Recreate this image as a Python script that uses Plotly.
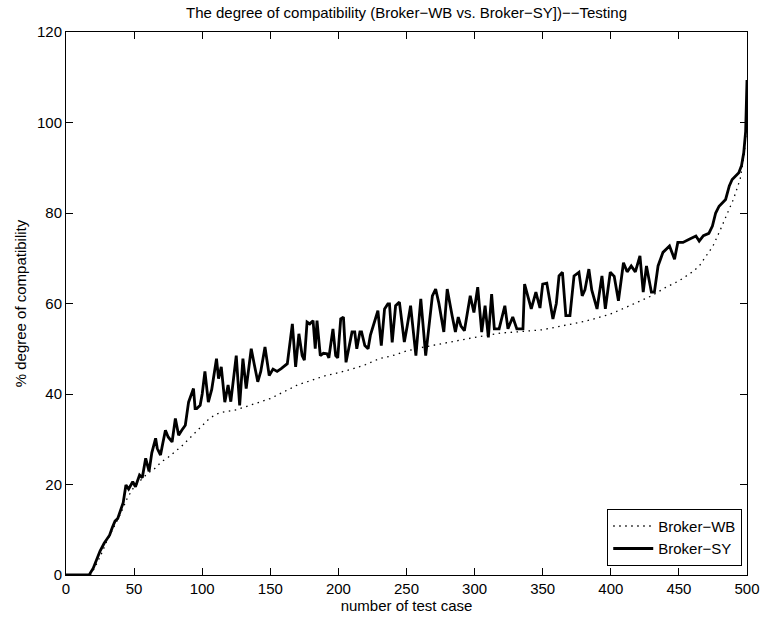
import plotly.graph_objects as go

# Broker-WB (dotted) readings
wb_x = [0, 5, 10, 15, 18, 20, 25, 30, 35, 40, 45, 50, 55, 60, 65, 70, 75, 80, 85, 90, 95, 100,
        105, 110, 115, 120, 125, 130, 140, 150, 160, 170, 180, 190, 200, 210, 220, 230, 240,
        250, 260, 270, 280, 290, 300, 310, 320, 330, 340, 350, 360, 370, 380, 390, 400, 410,
        420, 430, 440, 450, 460, 465, 470, 475, 480, 485, 490, 495, 498, 500]
wb_y = [0, 0, 0, 0, 0, 1, 4, 7.5, 10.5, 13.5, 17, 19.5, 21, 22.5, 23.5, 25, 26, 27.2, 28.5, 30,
        31.6, 33, 34.5, 35.5, 36, 36.3, 36.5, 37, 38, 39, 40.5, 42, 43, 44, 44.7, 45.5, 46.5,
        47.8, 48.5, 49.5, 50.2, 50.8, 51.3, 52, 52.5, 53, 53.5, 53.7, 54, 54.2, 54.8, 55.4, 56,
        56.8, 57.7, 59, 60.3, 61.7, 63.5, 65, 67, 68.3, 70.5, 72.7, 76, 79.5, 83, 87.5, 93, 100]

# Broker-SY (solid) readings
sy_x = [0, 17, 20, 22, 25, 28, 32, 34, 36, 38, 40, 42, 44, 46, 49, 51, 54, 56, 58.5, 61, 63,
        65.8, 67, 69.4, 71, 73, 75, 77.9, 80.3, 82.7, 85, 87.6, 90, 92.4, 93.6, 94.8, 96, 98.5,
        100, 102, 104.5, 107, 110.5, 112, 114, 116.6, 119, 121, 123, 125, 127.5, 129.9, 132.3,
        136, 138.4, 140.8, 143, 146.1, 149.2, 152, 155, 158, 162.5, 166.2, 168.6, 171, 173.4,
        175, 177, 179, 181.4, 183, 184.3, 186.7, 189, 191.6, 193, 196, 198, 199.5, 201.7,
        203.7, 205.6, 208.5, 210, 212, 213.5, 215.8, 217, 219.4, 221.8, 223.5, 225.4, 229,
        231.5, 233.9, 236.3, 237.5, 239.5, 242, 244.8, 248.4, 250.5, 253, 256.9, 260.5, 264.1,
        266.5, 269, 271.4, 273.8, 277.4, 279.9, 283.5, 285.9, 288, 290, 292.5, 296.8, 299.5,
        302.3, 305.2, 307.7, 310.1, 312.5, 314.5, 318, 322.2, 324.5, 328, 331, 335.5, 336.7,
        341.6, 345, 348, 350, 353, 356, 357.5, 360, 362, 364.5, 367, 370, 373, 376.6, 379,
        381, 383.9, 386, 389.9, 393.5, 396, 399.6, 402.5, 405.6, 409.3, 412, 415, 418, 421.4,
        423.8, 426.2, 429.8, 432, 434.7, 438.3, 443.1, 446.8, 449.2, 453, 457.6, 462.5, 464.9,
        468, 472, 474.6, 477, 479.5, 484.3, 487, 489.1, 494, 496, 497.6, 499, 500]
sy_y = [0, 0, 1.5, 3, 5.3, 7, 8.8, 10.5, 11.9, 12.5, 14.1, 16, 19.9, 19, 20.6, 19.5, 22.1,
        21.5, 25.8, 22.9, 27, 30.2, 28, 26.5, 29, 32, 30.5, 29.4, 34.6, 30.9, 32, 33.1, 38.2,
        40.4, 41.2, 36.8, 36.8, 37.5, 40, 45, 38.2, 41, 47.8, 43.4, 46, 38.2, 42, 38.3, 44,
        48.5, 37.5, 47.8, 41.2, 50, 46.3, 42.7, 45, 50.4, 44.1, 45.5, 45, 45.6, 46.7, 55.5,
        46, 53.3, 48.5, 47.5, 55.9, 55.5, 56.2, 50, 56.2, 48.5, 49, 48.9, 48, 54.4, 48.5,
        48, 56.6, 57, 47, 51.5, 53.7, 53.7, 50, 53.7, 53.7, 50.7, 50, 53, 54.8, 58.4, 50.7,
        58.8, 59.9, 59.9, 51.4, 59.5, 60.3, 51.5, 55, 59.5, 48.5, 61, 48.5, 55, 61.7, 63.2,
        60, 53.7, 63.2, 57.3, 53.7, 57, 55, 54, 61.7, 58, 63.6, 53.7, 59.5, 52.5, 62.1, 54.4,
        54.4, 59.5, 54.4, 57, 54.4, 54.4, 64.3, 58.8, 62.5, 59, 64.3, 64.5, 59.5, 56.6, 60,
        66.1, 66.9, 57.3, 57.3, 66.1, 66.9, 61.7, 63, 67.6, 63, 58.8, 66.1, 58.8, 66.9, 66,
        60.6, 69, 67, 68.3, 67, 70.5, 62.5, 68.3, 62.5, 62.5, 68.3, 71.3, 72.7, 69.8, 73.5,
        73.5, 74.2, 74.9, 73.8, 75, 75.5, 77.1, 80, 81.5, 83, 86, 87.4, 88.9, 90.5, 93.3, 98,
        109.4]

x_ticks = [0, 50, 100, 150, 200, 250, 300, 350, 400, 450, 500]
y_ticks = [0, 20, 40, 60, 80, 100, 120]

font_family = "Liberation Sans, Arial, Helvetica, sans-serif"
FS = 15
txt_font = dict(size=FS, color="black", family=font_family)

fig = go.Figure()
fig.add_trace(go.Scatter(x=wb_x, y=wb_y, mode="lines", name="Broker\u2212WB",
                         line=dict(color="black", width=1.3, dash="1.5px,4.5px")))
fig.add_trace(go.Scatter(x=sy_x, y=sy_y, mode="lines", name="Broker\u2212SY",
                         line=dict(color="black", width=2.8)))

axis_common = dict(showline=True, linecolor="black", linewidth=1, mirror="ticks",
                   ticks="inside", ticklen=7, tickcolor="black", showgrid=False,
                   zeroline=False, tickfont=txt_font)

fig.update_xaxes(range=[0, 500], tickvals=x_ticks, ticktext=[str(v) for v in x_ticks],
                 title=dict(text="number of test case", font=txt_font, standoff=2),
                 **axis_common)
fig.update_yaxes(range=[0, 120], tickvals=y_ticks, ticktext=[str(v) for v in y_ticks],
                 title=dict(text="% degree of compatibility", font=txt_font, standoff=6),
                 **axis_common)

fig.update_layout(
    width=772, height=622,
    margin=dict(l=66, r=17, t=32, b=45),
    paper_bgcolor="white", plot_bgcolor="white",
    font=txt_font,
    title=dict(text="The degree of compatibility (Broker\u2212WB vs. Broker\u2212SY])\u2212\u2212Testing",
               x=0.5, xref="paper", xanchor="center", y=1 - 13 / 622, yanchor="middle",
               font=txt_font),
    legend=dict(x=0.993, y=0.017, xanchor="right", yanchor="bottom",
                bgcolor="white", bordercolor="black", borderwidth=1,
                font=txt_font, tracegroupgap=0, itemwidth=40),
    showlegend=True,
)

fig.write_html("out.html")
